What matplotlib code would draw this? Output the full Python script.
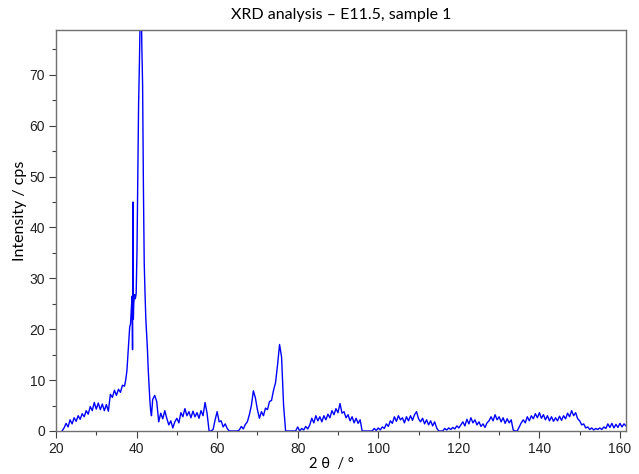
import numpy as np
import matplotlib
matplotlib.use("agg")
import matplotlib.pyplot as plt
from matplotlib.ticker import MultipleLocator

# background counts on a 0.5 deg grid, left of the main reflection (21.5 - 37.0)
left_start = 21.5
left_counts = [
    0.0, 0.6, 1.5, 0.8, 2.2, 1.4, 2.6, 1.9, 3.0, 2.3,
    3.4, 2.8, 4.0, 3.3, 4.8, 4.0, 5.6, 4.3, 5.5, 4.2,
    5.3, 4.0, 5.2, 3.9, 7.2, 6.6, 8.0, 7.0, 8.2, 7.6,
    9.0, 8.8,
]

# main reflection, finer sampling
peak_theta = [
    37.3, 37.6, 37.9, 38.1, 38.3, 38.5, 38.7, 38.9, 39.0, 39.1,
    39.2, 39.3, 39.5, 39.7, 39.9, 40.1, 40.3, 40.5, 40.7, 40.9,
    41.1, 41.3, 41.5, 41.7, 41.9, 42.1, 42.3, 42.5, 42.7, 42.9,
    43.1, 43.3, 43.5, 43.7,
]
peak_counts = [
    10.0, 11.8, 15.5, 17.8, 20.5, 21.0, 24.0, 26.5, 16.0, 45.0,
    22.0, 25.0, 26.8, 26.0, 27.0, 35.0, 50.0, 64.0, 72.0, 82.0,
    90.0, 76.0, 68.0, 48.0, 33.0, 27.0, 22.0, 19.0, 16.0, 12.0,
    9.0, 6.0, 4.0, 3.0,
]

# counts on a 0.5 deg grid from 44.0 to 161.5
right_start = 44.0
right_counts = [
    6.2, 7.0, 5.8, 1.8, 3.5, 2.4, 4.0, 2.5, 1.2, 2.0,
    0.6, 1.8, 2.5, 1.6, 3.6, 2.8, 4.4, 3.0, 3.8, 2.6,
    3.9, 2.8, 3.6, 2.5, 4.0, 3.0, 5.6, 3.5, 0.0, 0.0,
    0.3, 2.2, 3.8, 1.8, 2.0, 0.8, 1.4, 0.5, 0.0, 0.0,
    0.0, 0.0, 0.0, 0.2, 0.9, 0.4, 1.3, 1.8, 3.2, 5.0,
    7.9, 6.5, 4.2, 2.5, 3.8, 3.0, 4.5, 4.2, 5.8, 6.0,
    8.0, 9.5, 13.0, 17.0, 14.5, 5.0, 0.0, 0.0, 0.0, 0.0,
    0.0, 0.0, 0.8, 0.0, 0.5, 0.2, 0.9, 0.4, 1.2, 2.5,
    1.6, 3.0, 2.0, 2.8, 1.8, 3.0, 2.2, 3.3, 2.6, 4.0,
    3.2, 4.4, 3.6, 5.4, 3.5, 3.8, 2.6, 3.2, 2.0, 2.8,
    1.6, 2.5, 1.5, 2.2, 0.0, 0.0, 0.0, 0.0, 0.0, 0.0,
    0.5, 0.1, 0.6, 0.2, 0.8, 0.5, 1.4, 0.9, 2.0, 1.5,
    2.8, 1.9, 3.0, 2.2, 2.6, 1.6, 2.8, 2.0, 3.0, 2.1,
    3.2, 3.8, 2.4, 1.8, 2.5, 1.4, 2.2, 1.2, 2.0, 1.0,
    1.8, 0.6, 0.0, 0.0, 0.0, 0.5, 0.2, 0.6, 0.3, 0.7,
    0.4, 1.0, 0.6, 1.2, 1.8, 1.0, 2.3, 1.4, 2.6, 1.6,
    2.2, 1.2, 1.8, 0.9, 1.4, 0.7, 1.6, 2.0, 2.8, 2.0,
    3.2, 2.2, 2.8, 1.8, 2.6, 1.5, 2.4, 1.6, 2.2, 0.2,
    0.0, 0.0, 0.8, 1.6, 2.2, 1.6, 2.8, 2.0, 3.0, 2.4,
    3.4, 2.6, 3.6, 2.5, 3.2, 2.2, 3.0, 2.0, 2.8, 1.9,
    2.6, 2.0, 2.9, 2.1, 3.0, 2.4, 3.5, 2.8, 4.0, 3.0,
    3.6, 2.4, 2.0, 1.2, 1.4, 0.6, 0.8, 0.3, 0.6, 0.2,
    0.5, 0.3, 0.6, 0.3, 0.8, 0.5, 1.4, 0.7, 1.5, 0.6,
    1.3, 0.7, 1.5, 0.8, 1.4, 1.0,
]

step = 0.5
left_theta = left_start + step * np.arange(len(left_counts))
right_theta = right_start + step * np.arange(len(right_counts))

two_theta = np.concatenate([left_theta, peak_theta, right_theta])
intensity = np.concatenate([left_counts, peak_counts, right_counts])

fig = plt.figure(figsize=(6.39, 4.74), dpi=100)
ax = fig.add_axes([56 / 639, 43 / 474, 570 / 639, 401 / 474])

ax.plot(two_theta, intensity, color="#0000ff", linewidth=1.0)

ax.set_xlim(20, 161.5)
ax.set_ylim(0, 78.8)
ax.xaxis.set_major_locator(MultipleLocator(20))
ax.xaxis.set_minor_locator(MultipleLocator(10))
ax.yaxis.set_major_locator(MultipleLocator(10))
ax.yaxis.set_minor_locator(MultipleLocator(5))

for s in ax.spines.values():
    s.set_color("#707070")
    s.set_linewidth(1.0)

ax.tick_params(which="both", direction="out", color="#404040", width=0.8,
               top=False, right=False)
ax.tick_params(which="major", length=5, pad=3)
ax.tick_params(which="minor", length=3)
for lab in ax.get_xticklabels() + ax.get_yticklabels():
    lab.set_fontfamily(["Liberation Sans", "DejaVu Sans"])
    lab.set_fontsize(10)
    lab.set_color("#222222")

label_font = ["Lato", "DejaVu Sans"]
ax.set_title("XRD analysis \u2013 E11.5, sample 1", family=label_font,
             fontsize=11.5, pad=8)
ax.set_ylabel("Intensity / cps", family=label_font, fontsize=11.5)
ax.set_xlabel("2 \u03b8  / \u00b0", family=label_font, fontsize=10.5)
ax.yaxis.set_label_coords(-0.051, 0.55)
ax.xaxis.set_label_coords(0.484, -0.064)

fig.savefig("out.png", dpi=100)
